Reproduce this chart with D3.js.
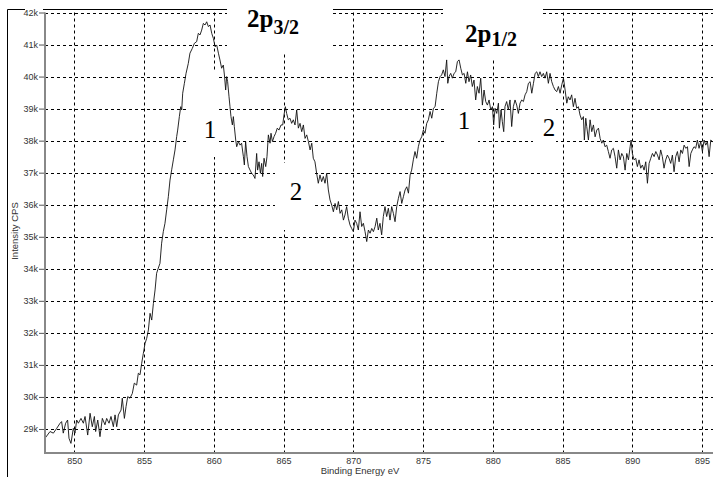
<!DOCTYPE html>
<html>
<head>
<meta charset="utf-8">
<script src="https://cdn.jsdelivr.net/npm/d3@7"></script>
<style>
  html, body { margin: 0; padding: 0; background: #fff; }
  svg { display: block; }
</style>
</head>
<body>
<svg id="chart" width="713" height="477"></svg>
<script>
// ---- Data ----
const xTicks = [850, 855, 860, 865, 870, 875, 880, 885, 890, 895];
const yTicks = [29, 30, 31, 32, 33, 34, 35, 36, 37, 38, 39, 40, 41, 42];
const yTickLabels = ["29k","30k","31k","32k","33k","34k","35k","36k","37k","38k","39k","40k","41k","42k"];

const energy = [
847.90,848.26,848.50,848.74,848.98,849.09,849.21,849.38,849.52,849.62,849.76,849.93,850.05,850.17,850.29,850.48,850.65,850.77,850.96,851.13,
851.29,851.44,851.53,851.68,851.84,852.01,852.20,852.32,852.49,852.63,852.80,852.92,853.04,853.16,853.35,853.44,853.59,853.71,853.83,853.99,
854.16,854.30,854.47,854.59,854.71,854.83,854.95,855.07,855.19,855.31,855.43,855.55,855.67,855.79,855.90,856.02,856.14,856.26,856.38,856.50,
856.62,856.74,856.86,856.98,857.10,857.22,857.34,857.41,857.53,857.63,857.70,857.77,857.89,858.01,858.17,858.29,858.46,858.61,858.77,858.89,
859.01,859.13,859.25,859.37,859.49,859.61,859.73,859.85,859.97,860.09,860.21,860.33,
860.44,860.56,860.68,860.76,860.85,860.92,860.99,861.09,861.16,861.23,861.33,861.40,861.47,861.57,861.64,861.76,861.88,861.99,862.12,862.19,
862.28,862.38,862.48,862.60,862.71,862.83,862.95,863.07,863.14,863.24,863.34,863.43,863.50,863.60,863.72,863.81,863.91,864.03,864.10,864.20,
864.32,864.43,864.55,864.67,864.82,864.94,865.03,865.13,865.22,865.34,865.46,865.58,865.70,865.82,865.94,866.06,866.18,866.30,866.42,866.54,
866.66,866.78,866.90,867.02,867.13,867.25,867.37,867.49,867.61,867.73,867.85,867.97,868.09,868.21,868.33,868.45,868.57,868.69,868.81,868.93,
869.05,869.17,869.29,869.40,869.52,869.64,869.76,869.88,870.00,870.12,870.24,870.36,870.48,870.60,870.72,870.84,870.96,871.08,871.20,871.32,
871.44,871.56,871.68,871.79,871.91,872.03,872.15,872.27,
872.39,872.51,872.63,872.75,872.87,872.99,873.11,873.23,873.35,873.47,873.59,873.71,873.83,873.95,874.07,874.18,874.30,874.42,874.54,874.66,
874.78,874.90,875.02,875.14,875.26,875.38,875.50,875.62,875.74,875.86,875.98,876.10,876.22,876.33,876.45,876.57,876.69,876.77,876.86,876.98,
877.10,877.22,877.34,877.46,877.58,877.70,877.82,877.94,878.06,878.18,878.29,878.41,878.53,878.65,878.77,878.89,879.01,879.13,879.25,879.37,
879.49,879.61,879.73,879.85,879.97,880.06,880.16,880.28,880.40,880.47,880.59,880.68,880.78,880.87,880.99,881.11,881.23,881.35,881.47,881.59,
881.71,881.83,881.95,882.07,882.19,882.31,882.43,882.55,882.67,882.79,882.91,883.03,883.15,883.26,883.38,883.50,883.62,883.74,883.86,883.98,
884.10,
884.22,884.34,884.46,884.58,884.70,884.82,884.94,885.06,885.18,885.30,885.41,885.53,885.65,885.77,885.89,886.01,886.13,886.25,886.37,886.49,
886.56,886.66,886.73,886.85,886.97,887.09,887.21,887.33,887.45,887.57,887.69,887.81,887.92,888.04,888.16,888.28,888.40,888.52,888.64,888.76,
888.88,889.00,889.12,889.24,889.36,889.48,889.60,889.72,889.84,889.91,890.00,890.12,890.24,890.36,890.48,890.60,890.72,890.84,890.96,891.08,
891.20,891.32,891.44,891.56,891.68,891.80,891.92,892.03,892.15,892.27,892.39,892.51,892.63,892.75,892.87,892.99,893.11,893.23,893.35,893.47,
893.59,893.71,893.83,893.95,894.07,894.19,894.30,894.42,894.54,894.66,894.78,894.90,895.02,895.14,895.26,895.38,895.50,895.62,895.74
];

// intensity in kCPS
const intensityK = [
28.71,28.92,28.87,29.02,29.18,29.23,28.87,29.18,29.28,28.71,28.55,29.02,28.87,29.28,29.18,29.33,29.18,29.39,28.81,29.49,
29.07,29.39,28.92,29.28,28.76,29.33,29.13,29.33,29.18,29.39,29.07,29.44,29.07,29.44,29.59,29.96,29.33,29.70,30.01,29.96,
30.11,30.43,30.37,30.74,30.69,31.05,31.36,31.67,31.83,32.09,32.61,32.40,32.92,33.34,33.86,34.02,34.17,34.80,35.16,35.42,
35.84,36.25,36.77,37.09,37.40,37.71,38.13,38.33,38.75,39.06,38.96,39.48,39.79,40.10,40.41,40.73,40.88,41.04,41.09,41.35,
41.30,41.45,41.66,41.61,41.71,41.56,41.61,41.35,41.19,40.93,40.98,40.73,
40.52,40.26,40.36,40.05,39.58,40.00,39.84,39.37,39.06,38.75,38.49,38.75,38.44,38.02,37.81,37.97,37.86,37.92,37.50,37.24,
37.97,37.50,37.19,37.08,36.98,36.93,36.82,37.60,37.08,37.34,36.98,37.29,36.88,37.45,37.19,37.50,38.18,37.92,38.23,37.97,
38.13,38.23,38.39,38.33,38.49,38.49,38.80,39.06,38.85,38.65,38.70,38.54,38.65,38.49,38.96,38.39,38.54,38.28,38.49,38.07,
38.18,37.97,37.71,37.92,37.45,37.34,36.98,36.67,36.93,36.72,36.88,36.67,36.98,36.46,36.15,35.99,35.78,36.04,35.84,36.10,
35.73,35.84,35.52,35.68,35.94,35.58,35.37,35.26,35.16,35.52,35.42,35.21,35.78,35.32,35.42,35.16,34.85,35.21,35.11,35.26,
35.16,35.32,35.58,35.21,35.42,35.06,35.63,35.94,
35.63,35.89,35.52,35.94,35.73,35.47,35.94,36.20,36.41,36.04,36.25,36.46,36.56,36.36,36.93,37.08,37.40,37.66,37.45,37.81,
38.02,38.12,38.33,38.23,38.54,38.65,38.91,38.70,39.01,39.06,39.48,39.84,40.00,40.05,40.21,40.00,40.52,39.79,40.00,40.10,
39.95,40.10,40.15,40.47,40.52,40.26,40.05,40.10,39.79,40.15,39.84,40.05,39.69,39.89,39.27,39.69,39.48,39.95,39.11,39.58,
39.22,39.11,39.27,38.96,39.06,38.49,39.01,38.85,39.17,38.39,38.96,38.59,38.28,39.06,39.22,38.96,39.27,38.44,39.06,39.27,
39.11,38.85,39.17,39.27,39.22,39.43,39.53,39.79,39.84,39.48,39.79,40.10,40.15,40.00,40.15,40.00,40.10,39.95,40.15,39.79,
40.10,
39.84,39.69,39.58,39.53,39.69,39.48,39.74,39.95,39.58,39.17,39.37,39.27,39.43,39.06,39.32,39.01,39.06,38.80,38.65,38.75,
38.02,38.70,38.44,38.02,38.65,38.28,38.49,38.12,38.33,38.39,38.07,37.92,38.02,37.81,37.86,37.66,37.45,37.71,37.76,37.50,
37.14,37.71,37.40,37.60,37.50,37.08,37.60,37.40,37.81,38.02,37.60,37.40,37.45,37.19,37.40,37.14,37.24,37.08,37.34,36.67,
37.29,37.45,37.60,37.50,37.66,37.55,37.40,37.71,37.50,37.14,37.40,37.55,37.45,37.29,37.55,37.03,37.50,37.66,37.34,37.71,
37.60,37.86,37.76,37.81,37.19,37.60,37.71,37.81,37.76,38.02,37.76,37.97,37.66,38.02,37.86,37.97,37.50,38.02,37.97
];

const xDomain = [847.9, 895.78];
const yDomain = [28.25, 42];

// ---- Layout ----
const svg = d3.select("#chart");
const L = 45, R = 713, T = 12.5, B = 453;
const x = d3.scaleLinear().domain(xDomain).range([L, R]);
const y = d3.scaleLinear().domain(yDomain).range([B, T]);

const points = energy.map((e, i) => [e, intensityK[i]]);

// outer frame
svg.append("line").attr("x1", 7.5).attr("x2", 7.5).attr("y1", 9.5).attr("y2", 477)
  .attr("stroke", "#000").attr("stroke-width", 1);
svg.append("line").attr("x1", 7.5).attr("x2", 713).attr("y1", 9.5).attr("y2", 9.5)
  .attr("stroke", "#000").attr("stroke-width", 1);

// gridlines
const grid = svg.append("g").attr("stroke", "#000").attr("stroke-width", 1)
  .attr("stroke-dasharray", "3,3");
grid.selectAll("line.h").data(yTicks).join("line").attr("class", "h")
  .attr("x1", L).attr("x2", R)
  .attr("y1", d => Math.round(y(d)) + 0.5).attr("y2", d => Math.round(y(d)) + 0.5);
grid.selectAll("line.v").data(xTicks).join("line").attr("class", "v")
  .attr("y1", T).attr("y2", B)
  .attr("x1", d => Math.round(x(d)) + 0.5).attr("x2", d => Math.round(x(d)) + 0.5);

// white label boxes (cover grid / frame)
const boxes = [
  [227, 0, 106, 52],   // 2p3/2
  [443, 0, 100, 60],   // 2p1/2
  [188, 72, 29, 85],   // 1 (first)
  [275, 163, 37, 67],  // 2 (first)
  [447, 95, 31, 55],   // 1 (second)
  [533, 100, 23, 50],  // 2 (second)
  [25, 4, 18, 14]      // behind 42k label
];
svg.append("g").selectAll("rect").data(boxes).join("rect")
  .attr("x", d => d[0]).attr("y", d => d[1]).attr("width", d => d[2]).attr("height", d => d[3])
  .attr("fill", "#fff");

// curve
svg.append("clipPath").attr("id", "clip").append("rect")
  .attr("x", L).attr("y", 0).attr("width", R - L).attr("height", B);
svg.append("path").datum(points)
  .attr("clip-path", "url(#clip)")
  .attr("fill", "none").attr("stroke", "#111").attr("stroke-width", 0.9)
  .attr("stroke-linejoin", "round")
  .attr("d", d3.line().x(d => x(d[0])).y(d => y(d[1])));

// axes
const yAxis = d3.axisLeft(y).tickValues(yTicks).tickSize(6).tickPadding(1)
  .tickFormat((d, i) => yTickLabels[i]);
const gy = svg.append("g").attr("transform", `translate(${L},0)`).call(yAxis);
gy.select(".domain").remove();
gy.selectAll(".tick line").attr("stroke", "#555");
gy.selectAll(".tick text").attr("fill", "#333")
  .style("font-family", "'Liberation Sans', Arial, sans-serif").style("font-size", "9px");

const xAxis = d3.axisBottom(x).tickValues(xTicks).tickSize(0).tickPadding(5)
  .tickFormat(d3.format("d"));
const gx = svg.append("g").attr("transform", `translate(0,${B})`).call(xAxis);
gx.select(".domain").remove();
gx.selectAll(".tick text").attr("fill", "#333")
  .style("font-family", "'Liberation Sans', Arial, sans-serif").style("font-size", "9px");

// axis lines (gray)
svg.append("line").attr("x1", L).attr("x2", L).attr("y1", T).attr("y2", B + 1)
  .attr("stroke", "#888").attr("stroke-width", 2);
svg.append("line").attr("x1", L).attr("x2", R).attr("y1", B).attr("y2", B)
  .attr("stroke", "#888").attr("stroke-width", 2);

// axis titles
svg.append("text").attr("x", 360).attr("y", 474).attr("text-anchor", "middle")
  .attr("fill", "#333")
  .style("font-family", "'Liberation Sans', Arial, sans-serif").style("font-size", "9.5px")
  .text("Binding Energy eV");
svg.append("text").attr("transform", "translate(18,231) rotate(-90)").attr("text-anchor", "middle")
  .attr("fill", "#333")
  .style("font-family", "'Liberation Sans', Arial, sans-serif").style("font-size", "9.5px")
  .text("Intensity CPS");

// annotations
const serif = "'Liberation Serif', 'Times New Roman', serif";
const t1 = svg.append("text").attr("x", 247).attr("y", 27)
  .style("font-family", serif).style("font-weight", "bold").style("font-size", "25px").attr("fill", "#000");
t1.append("tspan").text("2p");
t1.append("tspan").attr("dy", 7).style("font-size", "20px").text("3/2");

const t2 = svg.append("text").attr("x", 465).attr("y", 42)
  .style("font-family", serif).style("font-weight", "bold").style("font-size", "25px").attr("fill", "#000");
t2.append("tspan").text("2p");
t2.append("tspan").attr("dy", 4).style("font-size", "20px").text("1/2");

const nums = [
  ["1", 210, 138],
  ["2", 296, 200],
  ["1", 464, 129],
  ["2", 549, 136]
];
svg.append("g").selectAll("text").data(nums).join("text")
  .attr("x", d => d[1]).attr("y", d => d[2]).attr("text-anchor", "middle")
  .style("font-family", serif).style("font-size", "25px").attr("fill", "#000")
  .text(d => d[0]);
</script>
</body>
</html>
